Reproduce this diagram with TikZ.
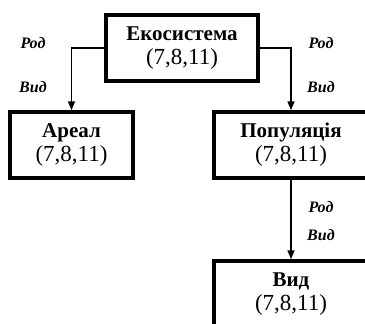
\documentclass[tikz,border=0pt]{standalone}
\usepackage{fontspec}
\setmainfont{Liberation Serif}
\usetikzlibrary{arrows.meta}
\newcommand{\boxtext}[1]{\textbf{#1}\\[2pt]{\fontsize{23}{24}\selectfont(7,8,11)}}
\begin{document}
\begin{tikzpicture}[x=1pt,y=-1pt,
		box/.style={draw, line width=3.5pt, minimum width=152pt, minimum height=66pt, align=center, inner sep=0pt, font=\fontsize{21}{22}\selectfont},
		lbl/.style={font=\fontsize{16}{18}\selectfont\bfseries\itshape},
		arr/.style={line width=1.6pt, -{Triangle[length=9pt,width=7pt]}}]
		\useasboundingbox (0,0) rectangle (365,324);
		\clip (0,0) rectangle (365,324);
		\fill[white] (0,0) rectangle (365,324);

		\node[box] (eko) at (182,48) {\boxtext{Екосистема}};
		\node[box, minimum width=123pt] (areal) at (71.5,145) {\boxtext{Ареал}};
		\node[box, minimum width=154pt] (pop) at (291,145) {\boxtext{Популяція}};
		\node[box, minimum width=154pt] (vid) at (291,294) {\boxtext{Вид}};

		\node[lbl] (rodl) at (33,43) {Род};
		\node[lbl] (vidl) at (33,87) {Вид};
		\node[lbl] (rodr) at (321,43) {Род};
		\node[lbl] (vidr) at (321,87) {Вид};
		\node[lbl] (rodd) at (321,207) {Род};
		\node[lbl] (vidd) at (321,235) {Вид};

		\draw[arr] (eko.west) -| (areal.north);
		\draw[arr] (eko.east) -| (pop.north);
		\draw[arr] (pop.south) -- (vid.north);
	\end{tikzpicture}
\end{document}
